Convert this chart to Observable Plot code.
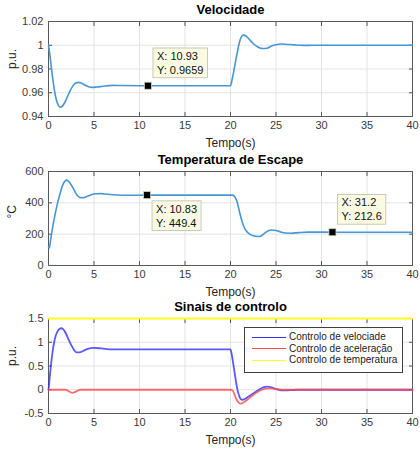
<!DOCTYPE html>
<html><head><meta charset="utf-8">
<script src="https://cdn.jsdelivr.net/npm/d3@7"></script>
<script src="https://cdn.jsdelivr.net/npm/@observablehq/plot@0.6"></script>
<style>
body{margin:0;background:#fff;font-family:"Liberation Sans",Arial,sans-serif}
#wrap{position:relative;width:420px;height:452px;overflow:hidden}
#wrap svg{display:block}
#legend{position:absolute;left:244px;top:327px;width:157px;height:41px;border:1px solid #404040;background:#fff;font-size:10px;color:#1a1a1a;padding-top:3px;box-sizing:content-box}
#legend .row{position:relative;height:11.7px;line-height:11.7px}
#legend .sw{position:absolute;left:7px;top:5.5px;width:34px;height:0;border-top:1.5px solid}
#legend .lb{position:absolute;left:44px;top:0;white-space:nowrap}
</style></head>
<body><div id="wrap"></div>
<script>
// ---------- data ----------
const xTicks = [0,5,10,15,20,25,30,35,40];

const velocidade = [[0,1.000],[0.15,0.992],[0.3,0.982],[0.5,0.970],[0.7,0.960],[0.9,0.953],[1.1,0.9492],[1.3,0.9478],[1.5,0.9485],[1.8,0.952],[2.1,0.957],[2.4,0.962],[2.7,0.966],[3.0,0.9682],[3.3,0.9687],[3.6,0.9682],[4.0,0.9665],[4.4,0.9650],[4.8,0.9645],[5.3,0.9648],[6.0,0.9655],[7.0,0.9662],[8.0,0.9661],[10.93,0.9659],[20.0,0.9659],[20.2,0.972],[20.5,0.984],[20.8,0.996],[21.0,1.003],[21.2,1.007],[21.4,1.0085],[21.7,1.0078],[22.0,1.0055],[22.5,1.0015],[23.0,0.9985],[23.5,0.9973],[24.0,0.9975],[24.5,0.9993],[25.0,1.0005],[25.5,1.0010],[26.0,1.0009],[27.0,1.0003],[28.0,0.9999],[30,1.0],[40,1.0]];
const velTicks = [0.94,0.96,0.98,1,1.02];
const velTips = [{x:10.93,y:0.9659,label:"X: 10.93\nY: 0.9659",pos:"above"}];

const temperatura = [[0,120],[0.1,112],[0.2,150],[0.33,200],[0.6,290],[1.0,400],[1.3,465],[1.5,505],[1.75,535],[2.0,545],[2.3,532],[2.6,505],[2.9,472],[3.2,445],[3.5,433],[3.8,432],[4.2,440],[4.7,452],[5.2,458],[5.8,459],[6.5,455],[7.5,450],[9.0,448],[10.83,449.4],[20.2,449.4],[20.4,445],[20.7,410],[21.0,340],[21.3,275],[21.6,232],[22.0,205],[22.5,190],[23.0,185],[23.3,187],[23.7,203],[24.1,220],[24.5,227],[25.0,223],[25.5,214],[26.0,207],[26.6,206],[27.5,210],[28.5,213],[31.2,212.6],[40,212]];
const tempTicks = [0,200,400,600];
const tempTips = [{x:10.83,y:449.4,label:"X: 10.83\nY: 449.4",pos:"below"},{x:31.2,y:212.6,label:"X: 31.2\nY: 212.6",pos:"above"}];

const ctrlVelocidade = [[0,0],[0.13,0.25],[0.26,0.5],[0.45,0.8],[0.62,1.0],[0.8,1.14],[1.0,1.23],[1.2,1.28],[1.4,1.295],[1.6,1.275],[1.9,1.19],[2.2,1.06],[2.5,0.94],[2.8,0.84],[3.1,0.785],[3.4,0.785],[3.8,0.815],[4.3,0.86],[5.0,0.88],[5.8,0.87],[7.0,0.85],[8.0,0.85],[20.0,0.85],[20.1,0.78],[20.3,0.55],[20.5,0.3],[20.7,0.06],[20.9,-0.1],[21.1,-0.19],[21.3,-0.21],[21.6,-0.19],[22.0,-0.14],[22.4,-0.09],[22.8,-0.04],[23.2,0.01],[23.6,0.05],[24.0,0.065],[24.4,0.055],[24.8,0.03],[25.3,0.0],[25.8,-0.015],[26.5,-0.01],[27.5,0],[40,0]];
const ctrlAceleracao = [[0,0],[1.9,0],[2.2,-0.03],[2.6,-0.065],[2.9,-0.05],[3.2,-0.02],[3.5,0],[20.0,0],[20.2,-0.01],[20.4,-0.08],[20.6,-0.18],[20.8,-0.25],[21.0,-0.285],[21.2,-0.29],[21.5,-0.26],[21.9,-0.2],[22.3,-0.14],[22.7,-0.08],[23.1,-0.03],[23.5,0.005],[23.9,0.025],[24.3,0.03],[24.8,0.02],[25.3,0.005],[26,0],[40,0]];
const ctrlTemperatura = [[0,1.5],[40,1.5]];
const ctrlTicks = [-0.5,0,0.5,1,1.5];
const ctrlNames = ["Controlo de velociade","Controlo de aceleração","Controlo de temperatura"];
const ctrlColors = ["#3030ff","#ff4a4a","#ffff20"];

const titles = ["Velocidade","Temperatura de Escape","Sinais de controlo"];
const yLabels = ["p.u.","°C","p.u."];
const xLabel = "Tempo(s)";

// ---------- drawing ----------
const FONT = "'Liberation Sans', Arial, Helvetica, sans-serif";
function panel({height, marginTop, marginBottom, yDomain, yTicks, title, ylabel, lines, tips}) {
  const marks = [
    Plot.gridX(xTicks, {stroke:"#e3e3e3", strokeOpacity:1}),
    Plot.gridY(yTicks, {stroke:"#e3e3e3", strokeOpacity:1}),
    Plot.axisX(xTicks, {anchor:"bottom", tickSize:0, tickPadding:5, fill:"#3a3a3a", fontSize:11, label:null}),
    Plot.axisY(yTicks, {anchor:"left", tickSize:0, tickPadding:5, fill:"#3a3a3a", fontSize:11, label:null, tickFormat:d=>String(d)}),
    Plot.axisX(xTicks, {anchor:"bottom", tickSize:-4, stroke:"#555", tickFormat:()=>"", label:null}),
    Plot.axisX(xTicks, {anchor:"top", tickSize:-4, stroke:"#555", tickFormat:()=>"", label:null}),
    Plot.axisY(yTicks, {anchor:"left", tickSize:-4, stroke:"#555", tickFormat:()=>"", label:null}),
    Plot.axisY(yTicks, {anchor:"right", tickSize:-4, stroke:"#555", tickFormat:()=>"", label:null}),
    Plot.frame({stroke:"#5a5a5a"}),
    ...lines.map(l => Plot.line(l.data, {x:d=>d[0], y:d=>d[1], stroke:l.color, strokeWidth:l.width||1.5, strokeOpacity:l.opacity||1, curve:"monotone-x"})),
    Plot.text([title], {text:d=>d, frameAnchor:"top", dy:-12, lineAnchor:"middle", fontWeight:"bold", fontSize:13, fill:"#000"}),
    Plot.text([ylabel], {text:d=>d, frameAnchor:"left", dx:-36, rotate:-90, lineAnchor:"middle", fontSize:12, fill:"#262626"}),
    Plot.text([xLabel], {text:d=>d, frameAnchor:"bottom", dy:27, lineAnchor:"middle", fontSize:12, fill:"#262626"})
  ];
  if (tips) {
    const above = tips.filter(t=>t.pos==="above"), below = tips.filter(t=>t.pos==="below");
    marks.push(
      Plot.text(above, {x:"x", y:"y", text:"label", textAnchor:"start", lineAnchor:"bottom", dx:9, dy:-12, lineHeight:1.25, fontSize:11, fill:"#111", ariaDescription:"datatip"}),
      Plot.text(below, {x:"x", y:"y", text:"label", textAnchor:"start", lineAnchor:"top", dx:9, dy:8, lineHeight:1.25, fontSize:11, fill:"#111", ariaDescription:"datatip"}),
      Plot.dot(tips, {x:"x", y:"y", symbol:"square", r:4, fill:"#000", stroke:"#d8d8b8", strokeWidth:0.8})
    );
  }
  return Plot.plot({
    width:420, height, marginTop, marginBottom, marginLeft:48, marginRight:8,
    x:{domain:[0,40]}, y:{domain:yDomain},
    style:{fontFamily:FONT, fontSize:"11px", background:"#fff", overflow:"visible"},
    marks
  });
}

const wrap = document.getElementById("wrap");
const p1 = panel({height:150, marginTop:21, marginBottom:34, yDomain:[0.94,1.02], yTicks:velTicks, title:titles[0], ylabel:yLabels[0],
  lines:[{data:velocidade, color:"#4796d6", width:1.6}], tips:velTips});
const p2 = panel({height:150, marginTop:21, marginBottom:35, yDomain:[0,600], yTicks:tempTicks, title:titles[1], ylabel:yLabels[1],
  lines:[{data:temperatura, color:"#4796d6", width:1.6}], tips:tempTips});
const p3 = panel({height:152, marginTop:18, marginBottom:39, yDomain:[-0.5,1.5], yTicks:ctrlTicks, title:titles[2], ylabel:yLabels[2],
  lines:[{data:ctrlVelocidade, color:ctrlColors[0], opacity:0.8, width:1.8},{data:ctrlAceleracao, color:ctrlColors[1], opacity:0.8, width:1.8},{data:ctrlTemperatura, color:ctrlColors[2], opacity:1, width:1.8}]});
wrap.append(p1, p2, p3);

// datatip boxes behind text
document.querySelectorAll('g[aria-description="datatip"] text').forEach(t => {
  const b = t.getBBox();
  const r = document.createElementNS("http://www.w3.org/2000/svg","rect");
  r.setAttribute("x", b.x-4); r.setAttribute("y", b.y-2);
  r.setAttribute("width", b.width+8); r.setAttribute("height", b.height+4);
  r.setAttribute("fill", "#fbfbe4"); r.setAttribute("stroke", "#bdbda8"); r.setAttribute("stroke-width", "0.8");
  if (t.getAttribute("transform")) r.setAttribute("transform", t.getAttribute("transform"));
  t.parentNode.insertBefore(r, t);
});

// legend
const lg = document.createElement("div"); lg.id = "legend";
ctrlNames.forEach((n,i) => {
  const row = document.createElement("div"); row.className = "row";
  const sw = document.createElement("span"); sw.className = "sw"; sw.style.borderTopColor = ctrlColors[i];
  const lb = document.createElement("span"); lb.className = "lb"; lb.textContent = n;
  row.append(sw, lb); lg.append(row);
});
wrap.append(lg);
</script></body></html>
